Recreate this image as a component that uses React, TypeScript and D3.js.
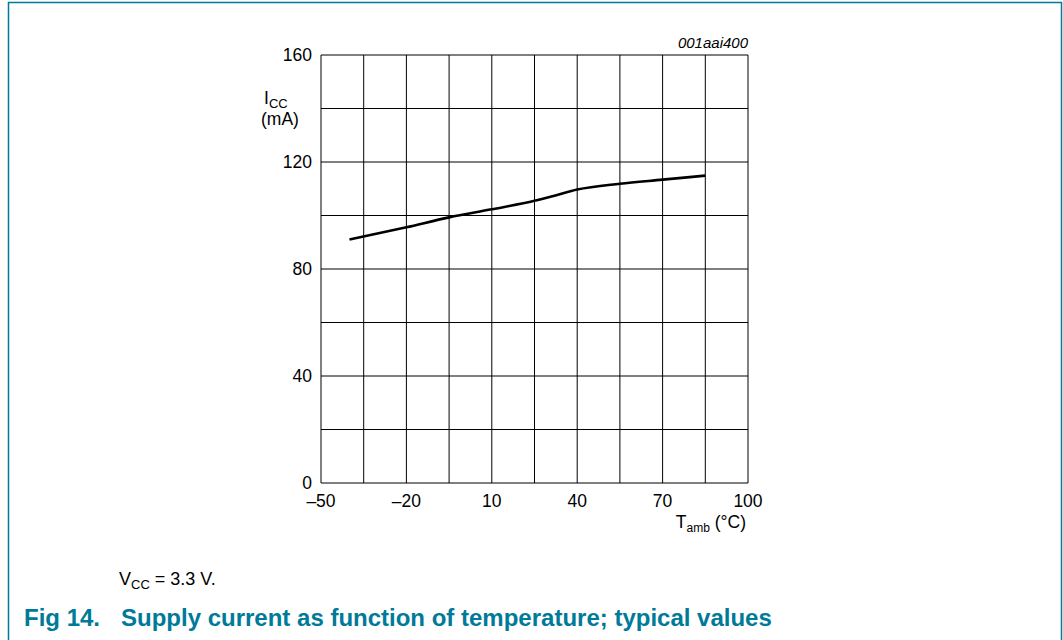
import React from "react";
import * as d3 from "d3";

const tempC: number[] = [-40, -20, -5, 10, 25, 32, 40, 55, 70, 85];
const iccMA: number[] = [91, 95.6, 99.3, 102.3, 105.5, 107.4, 109.7, 111.9, 113.4, 114.9];
const xTickLabels: number[] = [-50, -20, 10, 40, 70, 100];
const yTickLabels: number[] = [0, 40, 80, 120, 160];
const xGrid: number[] = d3.range(-50, 101, 15);
const yGrid: number[] = d3.range(0, 161, 20);

const W = 1063;
const H = 640;
const L = 321, R = 748, T = 55, B = 483;
const teal = "#007a99";
const font = "'Liberation Sans', Arial, sans-serif";
const fs = 17.5;
const sub = 13;

export default function App() {
  const x = d3.scaleLinear().domain([-50, 100]).range([L, R]);
  const y = d3.scaleLinear().domain([0, 160]).range([B, T]);
  const pts = tempC.map((t, i) => [t, iccMA[i]] as [number, number]);
  const line = d3
    .line<[number, number]>()
    .x((d) => x(d[0]))
    .y((d) => y(d[1]))
    .curve(d3.curveMonotoneX);
  const fmt = (v: number) => (v < 0 ? "\u2013" + Math.abs(v) : String(v));

  return (
    <svg
      width={W}
      height={H}
      style={{ position: "absolute", left: 0, top: 0, background: "#fff" }}
      fontFamily={font}
    >
      {/* frame */}
      <path d={`M8.5,${H} V2.5 H1061.5 V${H}`} fill="none" stroke={teal} strokeWidth={1.5} />

      {/* grid */}
      {xGrid.map((v) => (
        <line key={"vx" + v} x1={x(v)} x2={x(v)} y1={T} y2={B} stroke="#000" strokeWidth={1} />
      ))}
      {yGrid.map((v) => (
        <line key={"hy" + v} x1={L} x2={R} y1={y(v)} y2={y(v)} stroke="#000" strokeWidth={1} />
      ))}

      {/* curve */}
      <path d={line(pts) || ""} fill="none" stroke="#000" strokeWidth={2.6} strokeLinejoin="round" />

      {/* y tick labels */}
      {yTickLabels.map((v) => (
        <text key={"yl" + v} x={L - 9} y={y(v) + 6} textAnchor="end" fontSize={fs} fill="#000">
          {v}
        </text>
      ))}
      {/* x tick labels */}
      {xTickLabels.map((v) => (
        <text key={"xl" + v} x={x(v)} y={B + 24} textAnchor="middle" fontSize={fs} fill="#000">
          {fmt(v)}
        </text>
      ))}

      {/* y axis title */}
      <text x={264} y={104} fontSize={fs} fill="#000">
        I<tspan fontSize={sub} dy={4}>CC</tspan>
      </text>
      <text x={280} y={125} textAnchor="middle" fontSize={fs} fill="#000">
        (mA)
      </text>

      {/* x axis title */}
      <text x={746} y={528} textAnchor="end" fontSize={fs} fill="#000">
        T<tspan fontSize={12} dy={4}>amb</tspan>
        <tspan dy={-4}> (°C)</tspan>
      </text>

      {/* id */}
      <text x={748} y={48} textAnchor="end" fontSize={15} fontStyle="italic" fill="#000">
        001aai400
      </text>

      {/* note */}
      <text x={119} y={585} fontSize={18} fill="#000">
        V<tspan fontSize={sub} dy={4}>CC</tspan>
        <tspan dy={-4}> = 3.3 V.</tspan>
      </text>

      {/* caption */}
      <text x={24} y={626} fontSize={24} fontWeight="bold" fill={teal}>
        Fig 14.
      </text>
      <text x={121} y={626} fontSize={24} fontWeight="bold" fill={teal}>
        Supply current as function of temperature; typical values
      </text>
    </svg>
  );
}
